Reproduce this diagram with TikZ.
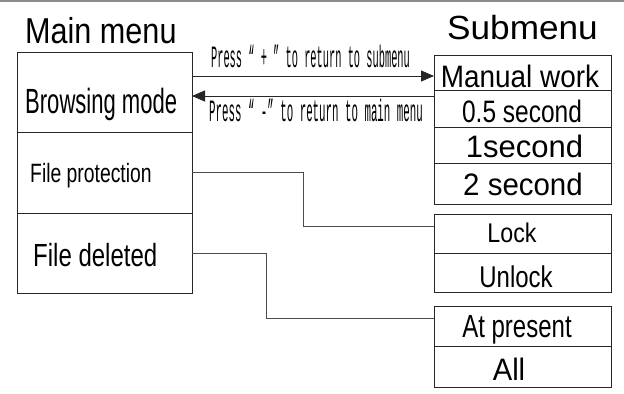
\documentclass[tikz,border=0pt]{standalone}
\usepackage{fontspec}
\setmainfont{Liberation Sans}
\newfontfamily\pressfont{Liberation Mono}
\usetikzlibrary{arrows.meta,positioning}
\newcommand\squeezed[2]{\scalebox{#1}[1]{#2}}
\tikzset{
	cell/.style={draw=black!85,line width=1bp,inner sep=0pt,outer sep=0pt,minimum width=#1},
	fs/.style={font=\fontsize{#1}{#1}\selectfont,inner sep=0pt},
	conn/.style={draw=black!70,line width=.8bp},
	arr/.style={draw=black!85,line width=.9bp,-{Triangle[length=13bp,width=11bp]}},
	press/.style={font=\pressfont\fontsize{31bp}{31bp}\selectfont,anchor=base,inner sep=0pt}
}
\begin{document}
\begin{tikzpicture}[x=1bp,y=-1bp]
	\useasboundingbox (0,0) rectangle (624,393);
	\fill[black!45] (0,0) rectangle (624,2);
	\node[fs=36bp,anchor=base west] (mainttl) at (25,43) {\squeezed{.85}{Main menu}};
	\node[fs=33.5bp,anchor=base] (subttl) at (522.5,39) {\squeezed{1.05}{Submenu}};
	% main menu column
	\coordinate (m0) at (105,52);
	\foreach \t/\f/\k/\h/\dx/\dy[count=\i from 0,evaluate=\i as\j using int(\i+1)] in {
			Browsing mode/35/.63/80.5/7/20.75,
			File protection/26.5/.73/80.5/12/9.25,
			File deleted/32/.75/80/15/13
		}
	\node at(m\i.south)[cell=174bp,anchor=north,minimum height=\h bp](m\j){}
	node at([xshift=\dx bp,yshift=-\dy bp]m\j.west)[fs=\f bp,anchor=base west](mt\j){\squeezed{\k}{\t}};
	% submenu column
	\coordinate (r0) at (522.5,55);
	\foreach \t/\f/\k/\h/\g/\dx/\dy[count=\i from 0,evaluate=\i as\j using int(\i+1)] in {
			Manual work/31/.9/35/0/-2.5/14.5,
			0.5 second/31/.79/37/0/-.5/13.5,
			1second/31/1/36/0/2/12,
			2 second/31/.95/41/0/.5/11.5,
			Lock/27/.86/39/10/-10.5/8.5,
			Unlock/30/.8/39/0/-6.5/14.5,
			At present/32/.75/40/14/-5.5/11,
			All/31/.94/41/0/-13.5/13.5
		}
	\node at([yshift=-\g bp]r\i.south)[cell=177bp,anchor=north,minimum height=\h bp](r\j){}
	node at([xshift=\dx bp,yshift=-\dy bp]r\j.center)[fs=\f bp,anchor=base](rt\j){\squeezed{\k}{\t}};
	% press arrows
	\coordinate (plus) at ([yshift=-3.5bp]r1.west);
	\coordinate (minus) at ([yshift=-6bp]r2.north west);
	\draw[arr] (plus -| m1.east) -- (plus);
	\draw[arr] (minus) -- (minus -| m1.east);
	\node[press] (plustxt) at (310.5,67) {\squeezed{.334}{Press “ + ” to return to submenu}};
	\node[press] (minustxt) at (316,121) {\squeezed{.348}{Press “ -” to return to main menu}};
	% links
	\draw[conn] (m2.east) -- ++(111,0) |- ([yshift=7.5bp]r5.west);
	\draw[conn] (m3.east) -- ++(74,0) |- ([yshift=8bp]r7.west);
\end{tikzpicture}
\end{document}
